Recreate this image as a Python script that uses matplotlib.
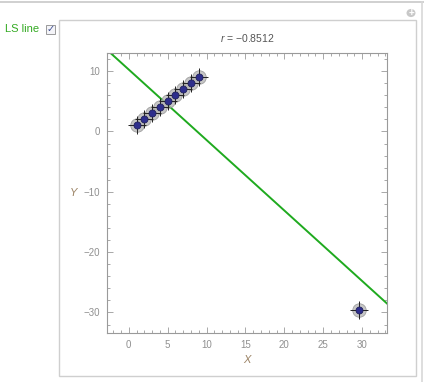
import numpy as np
import matplotlib
matplotlib.use("Agg")
import matplotlib.pyplot as plt
from matplotlib.patches import Rectangle, Circle
from matplotlib.lines import Line2D
from matplotlib.ticker import MultipleLocator

# data
xs = [1, 2, 3, 4, 5, 6, 7, 8, 9, 29.6]
ys = [1, 2, 3, 4, 5, 6, 7, 8, 9, -29.6]
title_r = "-0.8512"
control_label = "LS line"

W, H = 424, 382
fig = plt.figure(figsize=(W / 100, H / 100), dpi=100)
fig.patch.set_facecolor("white")
plt.rcParams["font.family"] = ["Liberation Sans", "DejaVu Sans"]
plt.rcParams["mathtext.fontset"] = "custom"
plt.rcParams["mathtext.it"] = "Liberation Sans:italic"


def fx(px):
    return px / W


def fy(py):
    return 1 - py / H


# manipulate panel decorations (kept behind the axes)
fig.add_artist(Line2D([0, 1], [fy(1.5), fy(1.5)], color="#c8c8c8", lw=1.2, zorder=-2))
fig.add_artist(Line2D([fx(422), fx(422)], [fy(1.5), 0], color="#d8d8d8", lw=1.2, zorder=-2))
fig.add_artist(Rectangle((fx(58.5), fy(375.5)), fx(416) - fx(58.5), fy(20) - fy(375.5),
                         facecolor="white", edgecolor="#cfcfcf", lw=1.0, zorder=-2))
fig.text(fx(5), fy(29), control_label, color="#33aa22", fontsize=8, va="center", ha="left")
fig.add_artist(Rectangle((fx(46), fy(33.5)), fx(8.5), fy(25) - fy(33.5),
                         facecolor="#f4f4f8", edgecolor="#9a9a9a", lw=0.7, zorder=-1))
fig.text(fx(50.5), fy(29), "\u2713", color="#3a4a90", fontsize=7, ha="center", va="center",
         family="DejaVu Sans")
fig.add_artist(Circle((fx(411), fy(13)), 4.5 / W, facecolor="#c8c8c8", edgecolor="none",
                      transform=fig.transFigure, zorder=-1))
fig.text(fx(411), fy(13), "+", color="white", fontsize=7, ha="center", va="center",
         fontweight="bold")

ax = fig.add_axes([fx(107), fy(333), fx(387) - fx(107), fy(53) - fy(333)])
ax.set_zorder(2)

# least squares line
slope, icept = np.polyfit(xs, ys, 1)
xl = np.array([-5, 40])
ax.plot(xl, slope * xl + icept, color="#1faa1f", lw=1.4, zorder=2)

# points: halo, cross, dot
ax.scatter(xs, ys, s=95, color="#b4b4b4", alpha=0.75, edgecolors="#8c8c8c", linewidths=0.6, zorder=3)
ax.scatter(xs, ys, s=150, marker="+", color="#222222", linewidths=0.7, zorder=4)
ax.scatter(xs, ys, s=26, color="#2e2e8c", edgecolors="#1a1a50", linewidths=0.5, zorder=5)

ax.set_xlim(-2.8, 33.2)
ax.set_ylim(-33.4, 13.0)
ax.xaxis.set_major_locator(MultipleLocator(5))
ax.xaxis.set_minor_locator(MultipleLocator(1))
ax.yaxis.set_major_locator(MultipleLocator(10))
ax.yaxis.set_minor_locator(MultipleLocator(2))
ax.yaxis.set_major_formatter(plt.FuncFormatter(lambda v, p: f"{v:.0f}".replace("-", "\u2212")))

for sp in ax.spines.values():
    sp.set_color("#9a9a9a")
    sp.set_linewidth(0.8)
ax.tick_params(which="both", direction="in", top=True, right=True, colors="#9a9a9a",
               labelcolor="#909090", labelsize=7, width=0.6)
ax.tick_params(which="major", length=4, pad=5)
ax.tick_params(which="minor", length=2)

ax.set_xlabel("X", fontstyle="italic", color="#9c8466", fontsize=8)
ax.xaxis.set_label_coords(0.5, -0.08)
ax.set_ylabel("Y", fontstyle="italic", color="#9c8466", fontsize=8, rotation=0, va="center")
ax.yaxis.set_label_coords(-0.12, 0.5)
ax.set_title(f"$r$ = {title_r.replace('-', chr(0x2212))}", color="#555555", fontsize=7.5, pad=8)

fig.savefig("out.png", dpi=100, facecolor="white")
